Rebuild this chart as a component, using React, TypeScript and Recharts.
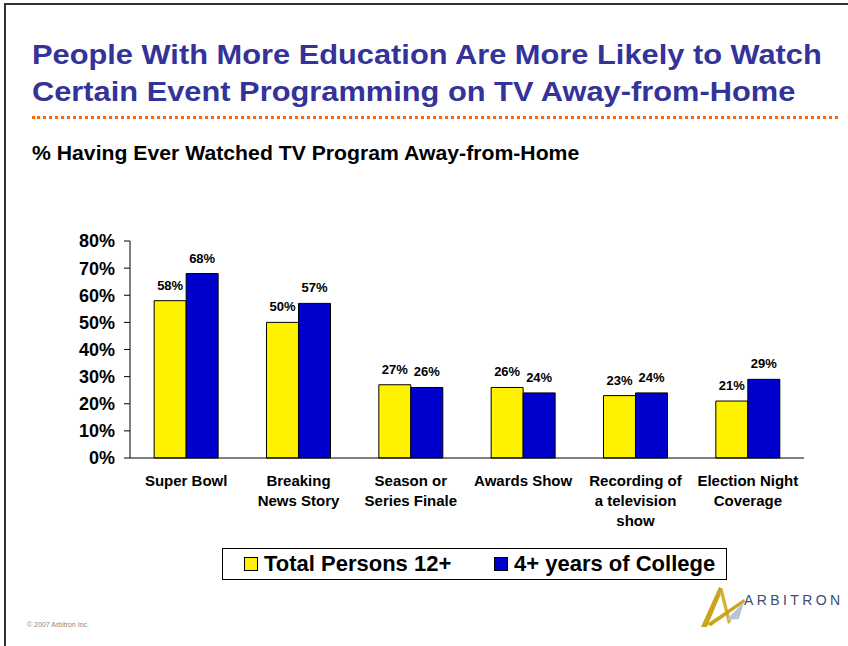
import React from 'react'
import { BarChart, Bar, XAxis, YAxis, LabelList } from 'recharts'

const categories = [
  ['Super Bowl'],
  ['Breaking', 'News Story'],
  ['Season or', 'Series Finale'],
  ['Awards Show'],
  ['Recording of', 'a television', 'show'],
  ['Election Night', 'Coverage'],
]
const totalPersons = [58, 50, 27, 26, 23, 21]
const college = [68, 57, 26, 24, 24, 29]
const yTicks = [0, 10, 20, 30, 40, 50, 60, 70, 80]
const seriesNames = ['Total Persons 12+', '4+ years of College']

const FONT = "'Liberation Sans', Arial, sans-serif"
const YELLOW = '#fff200'
const BLUE = '#0000cc'

const data = categories.map((lines, i) => ({
  name: lines.join(' '),
  total: totalPersons[i],
  college: college[i],
}))

function CategoryTick({ x, y, payload }: any) {
  const lines = categories[payload.index] || [payload.value]
  return (
    <text x={x} y={y + 20} textAnchor="middle" fontFamily={FONT} fontSize={15} fontWeight="bold" fill="#000">
      {lines.map((l, i) => (
        <tspan key={i} x={x} dy={i === 0 ? 0 : 20}>
          {l}
        </tspan>
      ))}
    </text>
  )
}

function LegendBox() {
  const swatch = (color: string, left: number) => (
    <span style={{ position: 'absolute', left, top: 8, width: 14, height: 14, background: color, border: '1px solid #000', boxSizing: 'border-box' }} />
  )
  const label = (text: string, left: number) => (
    <span style={{ position: 'absolute', left, top: 2, fontSize: 22, fontWeight: 'bold', lineHeight: '26px', whiteSpace: 'nowrap' }}>{text}</span>
  )
  return (
    <div style={{ position: 'absolute', left: 222, top: 548, width: 505, height: 32, border: '1px solid #000', boxSizing: 'border-box', background: '#fff' }}>
      {swatch(YELLOW, 21)}
      {label(seriesNames[0], 41)}
      {swatch(BLUE, 271)}
      {label(seriesNames[1], 291)}
    </div>
  )
}

const labelStyle = { fontFamily: FONT, fontSize: 13, fontWeight: 'bold', fill: '#000' }

export default function App() {
  return (
    <div style={{ position: 'absolute', left: 0, top: 0, width: 848, height: 646, background: '#fff', overflow: 'hidden', fontFamily: FONT }}>
      {/* slide frame */}
      <div style={{ position: 'absolute', left: 4, top: 3, width: 860, height: 700, borderLeft: '2px solid #333', borderTop: '2px solid #333' }} />

      <div style={{ position: 'absolute', left: 32, top: 36, color: '#333399', fontWeight: 'bold', fontSize: 28, lineHeight: '37px', whiteSpace: 'nowrap', transform: 'scaleX(1.1)', transformOrigin: 'left top' }}>
        People With More Education Are More Likely to Watch
        <br />
        Certain Event Programming on TV Away-from-Home
      </div>
      <div style={{ position: 'absolute', left: 32, top: 116, width: 806, borderTop: '3px dotted #ff6600' }} />
      <div style={{ position: 'absolute', left: 32, top: 143, fontWeight: 'bold', fontSize: 19.3, color: '#000', whiteSpace: 'nowrap', transform: 'scaleX(1.1)', transformOrigin: 'left top' }}>
        % Having Ever Watched TV Program Away-from-Home
      </div>

      <div style={{ position: 'absolute', left: 0, top: 0 }}>
        <BarChart
          width={848}
          height={646}
          data={data}
          margin={{ top: 241, right: 44, bottom: 128, left: 50 }}
          barCategoryGap="21.5%"
          barGap={0}
        >
          <XAxis
            dataKey="name"
            xAxisId="cat"
            tickLine={false}
            axisLine={{ stroke: '#000' }}
            tick={<CategoryTick />}
            interval={0}
            height={60}
          />
          <XAxis
            xAxisId="bounds"
            type="number"
            domain={[0, 6]}
            ticks={[0, 1, 2, 3, 4, 5, 6]}
            tick={false}
            tickLine={{ stroke: '#000' }}
            tickSize={5}
            axisLine={false}
            height={0}
            orientation="bottom"
          />
          <YAxis
            domain={[0, 80]}
            ticks={yTicks}
            tickFormatter={(v: number) => `${v}%`}
            axisLine={{ stroke: '#000' }}
            tickLine={{ stroke: '#000' }}
            tickSize={6}
            tickMargin={9}
            width={80}
            tick={{ fontFamily: FONT, fontSize: 18, fontWeight: 'bold', fill: '#000' }}
            interval={0}
          />
          <Bar dataKey="total" name={seriesNames[0]} xAxisId="cat" fill={YELLOW} stroke="#000" strokeWidth={1} isAnimationActive={false}>
            <LabelList dataKey="total" position="top" offset={11} formatter={(v: number) => `${v}%`} style={labelStyle} />
          </Bar>
          <Bar dataKey="college" name={seriesNames[1]} xAxisId="cat" fill={BLUE} stroke="#000" strokeWidth={1} isAnimationActive={false}>
            <LabelList dataKey="college" position="top" offset={11} formatter={(v: number) => `${v}%`} style={labelStyle} />
          </Bar>
        </BarChart>
      </div>

      <LegendBox />

      <div style={{ position: 'absolute', left: 27, top: 621, fontSize: 7, color: '#888' }}>© 2007 Arbitron Inc.</div>

      {/* logo */}
      <svg style={{ position: 'absolute', left: 698, top: 584 }} width={150} height={50}>
        <polygon points="3,43 9,43 25,5 21,3" fill="#c9a41c" />
        <polygon points="22,8 25,6 33,38 30,40" fill="#d4b434" />
        <polygon points="9,40 46,15 47,18 13,42" fill="#c9a41c" />
        <polygon points="28,36 46,18 41,35" fill="#b9c3da" />
        <text x={46} y={21} fontFamily={FONT} fontSize={14} letterSpacing={3.4} fill="#3d4a7a">
          ARBITRON
        </text>
      </svg>
    </div>
  )
}
